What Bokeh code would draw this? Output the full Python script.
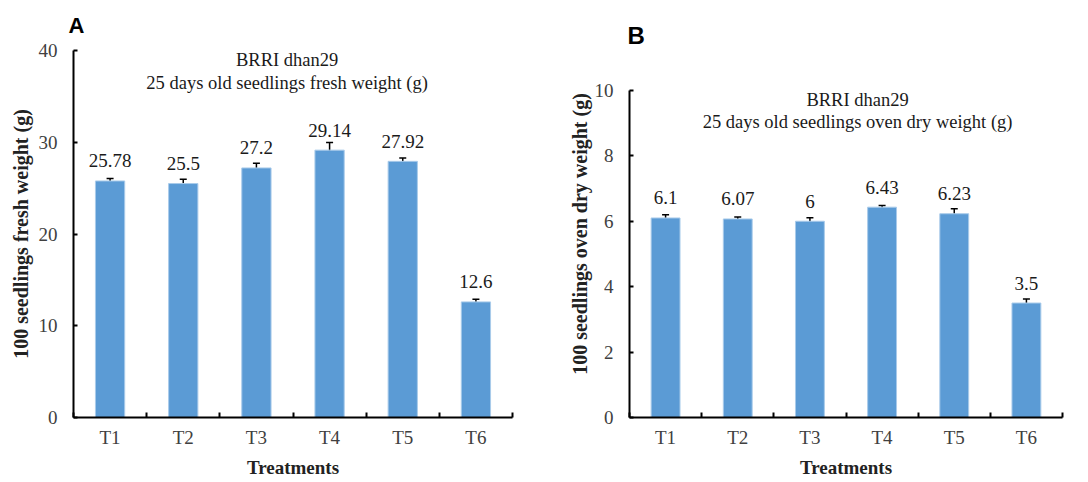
from bokeh.plotting import figure
from bokeh.layouts import row
from bokeh.models import (ColumnDataSource, Range1d, FixedTicker, CustomJSTickFormatter,
                          Whisker, TeeHead, Label)
from bokeh.embed import file_html
from bokeh.resources import INLINE
from bokeh.core.properties import value

# ---------------- data ----------------
treatments = ["T1", "T2", "T3", "T4", "T5", "T6"]
fresh_weight = [25.78, 25.5, 27.2, 29.14, 27.92, 12.6]
fresh_err = [0.27, 0.46, 0.5, 0.82, 0.36, 0.29]
dry_weight = [6.1, 6.07, 6.0, 6.43, 6.23, 3.5]
dry_err = [0.10, 0.06, 0.11, 0.05, 0.155, 0.12]
fresh_ticks = [0, 10, 20, 30, 40]
dry_ticks = [0, 2, 4, 6, 8, 10]

SERIF = "Liberation Serif"
BAR = "#5B9BD5"


def panel(letter, vals, errs, yticks, ytop, ylabel, sub2, width, left, right,
          letter_offset, letter_valign, letter_standoff, letter_size, sub_pos, ylab_standoff):
    p = figure(width=width, height=482, output_backend="svg", toolbar_location=None,
               x_range=Range1d(0.5, len(treatments) + 0.5), y_range=Range1d(0, ytop),
               min_border_left=left, min_border_right=right,
               min_border_top=50, min_border_bottom=65)
    p.outline_line_color = None
    p.grid.grid_line_color = None
    p.background_fill_color = "white"
    p.border_fill_color = "white"

    # panel letter as title
    p.title.text = letter
    p.title.align = "left"
    p.title.vertical_align = letter_valign
    p.title.offset = letter_offset
    p.title.standoff = letter_standoff
    p.title.text_font = "Liberation Sans"
    p.title.text_font_style = "bold"
    p.title.text_font_size = letter_size
    p.title.text_color = "black"

    xs = list(range(1, len(treatments) + 1))
    src = ColumnDataSource(dict(
        x=xs, top=vals,
        upper=[v + e for v, e in zip(vals, errs)],
        lower=[v - e for v, e in zip(vals, errs)],
        label=[("%g" % v) for v in vals],
    ))
    p.vbar(x="x", top="top", width=0.4, source=src, fill_color=BAR,
           line_color="#A9CBEA", line_width=1)
    w = Whisker(source=src, base="x", upper="upper", lower="lower",
                line_color="black", line_width=1.5,
                upper_head=TeeHead(size=7, line_color="black", line_width=1.5),
                lower_head=TeeHead(size=7, line_color="black", line_width=1.5))
    p.add_layout(w)
    p.text(x="x", y="top", text="label", source=src, text_align="center",
           text_baseline="middle", y_offset=-20, text_font=value(SERIF),
           text_font_size="19px", text_color="#1a1a1a")

    # x axis
    xa = p.xaxis[0]
    xa.ticker = FixedTicker(ticks=xs, minor_ticks=[i + 0.5 for i in range(len(treatments) + 1)])
    xa.formatter = CustomJSTickFormatter(args=dict(cats=treatments),
                                         code="return cats[Math.round(tick) - 1] || '';")
    xa.major_tick_line_color = None
    xa.major_tick_in = 0
    xa.major_tick_out = 0
    xa.minor_tick_in = 5
    xa.minor_tick_out = 0
    xa.minor_tick_line_color = "black"
    xa.minor_tick_line_width = 2
    xa.axis_line_color = "black"
    xa.axis_line_width = 2
    xa.major_label_text_font = SERIF
    xa.major_label_text_font_size = "19px"
    xa.major_label_text_color = "#404040"
    xa.major_label_standoff = 9
    xa.axis_label = "Treatments"
    xa.axis_label_text_font = SERIF
    xa.axis_label_text_font_style = "bold"
    xa.axis_label_text_font_size = "19px"
    xa.axis_label_text_color = "#222222"
    xa.axis_label_standoff = 6

    # y axis
    ya = p.yaxis[0]
    ya.ticker = FixedTicker(ticks=yticks, minor_ticks=[])
    ya.bounds = (yticks[0], yticks[-1])
    ya.major_tick_in = 4
    ya.major_tick_out = 0
    ya.major_tick_line_color = "black"
    ya.major_tick_line_width = 2
    ya.minor_tick_line_color = None
    ya.axis_line_color = "black"
    ya.axis_line_width = 2
    ya.major_label_text_font = SERIF
    ya.major_label_text_font_size = "19px"
    ya.major_label_text_color = "#404040"
    ya.major_label_standoff = 16
    ya.axis_label = ylabel
    ya.axis_label_text_font = SERIF
    ya.axis_label_text_font_style = "bold"
    ya.axis_label_text_font_size = "20px"
    ya.axis_label_text_color = "#222222"
    ya.axis_label_standoff = ylab_standoff

    # subtitle inside frame
    sx, sy1, sy2 = sub_pos
    p.add_layout(Label(x=sx, y=sy1, text="BRRI dhan29", text_align="center",
                       text_baseline="middle", text_font=SERIF, text_font_size="18.5px",
                       text_color="#1a1a1a"))
    p.add_layout(Label(x=sx, y=sy2, text=sub2, text_align="center",
                       text_baseline="middle", text_font=SERIF, text_font_size="18.5px",
                       text_color="#1a1a1a"))
    return p


pA = panel("A", fresh_weight, fresh_err, fresh_ticks, 40,
           "100 seedlings fresh weight (g)",
           "25 days old seedlings fresh weight (g)",
           540, 73, 28, -5, "top", 21, "22px", (3.42, 39.0, 36.5), 4)
pB = panel("B", dry_weight, dry_err, dry_ticks, 11.22,
           "100 seedlings oven dry weight (g)",
           "25 days old seedlings oven dry weight (g)",
           548, 89, 26, -2, "bottom", 3, "24px", (3.66, 9.72, 9.02), 1)

layout = row(pA, pB)
open("out.html", "w").write(file_html(layout, INLINE))
